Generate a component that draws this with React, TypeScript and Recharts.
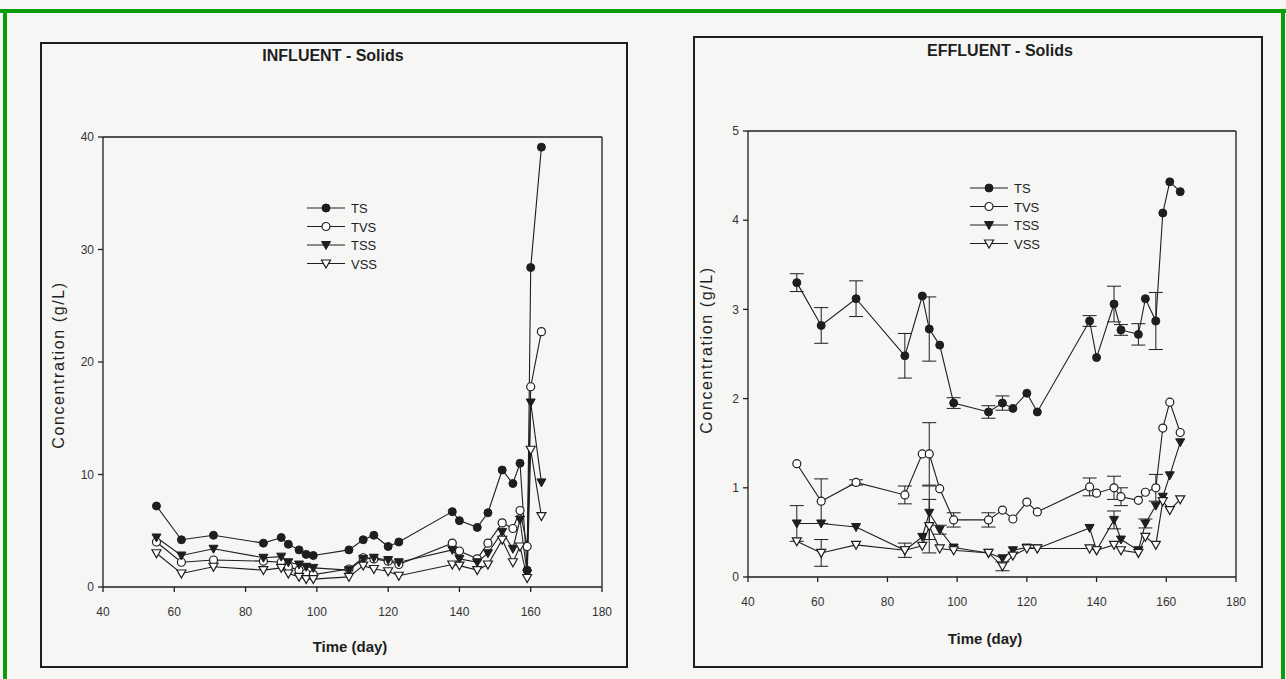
import React from 'react';
import { LineChart, Line, XAxis, YAxis, ErrorBar, ReferenceLine } from 'recharts';

// ---------- data ----------
const seriesNames = ['TS', 'TVS', 'TSS', 'VSS'];
const xTicks = [40, 60, 80, 100, 120, 140, 160, 180];
const infYTicks = [0, 10, 20, 30, 40];
const effYTicks = [0, 1, 2, 3, 4, 5];

const infDays = [55, 62, 71, 85, 90, 92, 95, 97, 99, 109, 113, 116, 120, 123, 138, 140, 145, 148, 152, 155, 157, 159, 160, 163];
const infTS = [7.2, 4.2, 4.6, 3.9, 4.4, 3.8, 3.3, 2.9, 2.8, 3.3, 4.2, 4.6, 3.6, 4.0, 6.7, 5.9, 5.3, 6.6, 10.4, 9.2, 11.0, 1.5, 28.4, 39.1];
const infTVS = [4.0, 2.2, 2.4, 2.3, 2.2, 1.8, 1.5, 1.2, 1.1, 1.6, 2.6, 2.5, 2.3, 2.0, 3.9, 3.2, 2.5, 3.9, 5.7, 5.2, 6.8, 3.6, 17.8, 22.7];
const infTSS = [4.4, 2.8, 3.4, 2.6, 2.7, 2.2, 2.0, 1.8, 1.7, 1.5, 2.5, 2.6, 2.4, 2.2, 3.3, 2.5, 2.2, 3.0, 4.9, 3.4, 6.0, 1.2, 16.4, 9.3];
const infVSS = [3.0, 1.2, 1.8, 1.5, 1.7, 1.2, 0.9, 0.7, 0.7, 0.9, 1.9, 1.6, 1.4, 1.0, 2.0, 1.9, 1.5, 2.0, 4.2, 2.2, 3.6, 0.8, 12.2, 6.3];

const effDays = [54, 61, 71, 85, 90, 92, 95, 99, 109, 113, 116, 120, 123, 138, 140, 145, 147, 152, 154, 157, 159, 161, 164];
const effTS = [3.30, 2.82, 3.12, 2.48, 3.15, 2.78, 2.60, 1.95, 1.85, 1.95, 1.89, 2.06, 1.85, 2.87, 2.46, 3.06, 2.77, 2.72, 3.12, 2.87, 4.08, 4.43, 4.32];
const effTVS = [1.27, 0.85, 1.06, 0.92, 1.38, 1.38, 0.99, 0.64, 0.64, 0.75, 0.65, 0.84, 0.73, 1.01, 0.94, 1.00, 0.90, 0.86, 0.95, 1.00, 1.67, 1.96, 1.62];
const effTSS = [0.60, 0.60, 0.56, 0.30, 0.45, 0.72, 0.53, 0.33, 0.27, 0.21, 0.30, 0.33, 0.32, 0.55, 0.30, 0.64, 0.42, 0.30, 0.60, 0.80, 0.90, 1.14, 1.51];
const effVSS = [0.40, 0.27, 0.36, 0.30, 0.35, 0.57, 0.32, 0.30, 0.27, 0.12, 0.24, 0.32, 0.32, 0.32, 0.30, 0.36, 0.30, 0.27, 0.45, 0.36, 0.85, 0.75, 0.87];
const effTSErr = [0.10, 0.20, 0.20, 0.25, null, 0.36, null, 0.06, 0.07, 0.08, null, null, null, 0.06, null, 0.20, 0.06, 0.12, null, 0.32, null, null, null];
const effTVSErr = [null, 0.25, 0.03, 0.10, null, 0.35, null, 0.08, 0.08, null, null, null, null, 0.10, null, 0.13, 0.10, null, null, 0.15, null, null, null];
const effTSSErr = [0.20, null, null, null, null, 0.30, 0.05, null, null, null, null, null, null, null, null, 0.10, null, null, 0.05, null, null, null, null];
const effVSSErr = [null, 0.15, null, 0.08, null, 0.30, null, null, null, 0.05, null, null, null, null, null, null, null, null, null, null, null, null, null];

const infData = infDays.map((d, i) => ({ day: d, TS: infTS[i], TVS: infTVS[i], TSS: infTSS[i], VSS: infVSS[i] }));
const effData = effDays.map((d, i) => ({
  day: d, TS: effTS[i], TVS: effTVS[i], TSS: effTSS[i], VSS: effVSS[i],
  TSe: effTSErr[i], TVSe: effTVSErr[i], TSSe: effTSSErr[i], VSSe: effVSSErr[i],
}));

// ---------- styles ----------
const INK = '#1e1e1e';
const FONT = "'Liberation Sans Narrow', 'Liberation Sans', Arial, sans-serif";
const BG = '#f6f6f4';

const Marker = ({ kind, cx, cy }: { kind: string; cx: number; cy: number }) => {
  if (kind === 'TS') return <circle cx={cx} cy={cy} r={4} fill={INK} stroke={INK} strokeWidth={1} />;
  if (kind === 'TVS') return <circle cx={cx} cy={cy} r={4} fill="#fff" stroke={INK} strokeWidth={1.2} />;
  const d = `M${cx - 4.5},${cy - 3.5} L${cx + 4.5},${cy - 3.5} L${cx},${cy + 4.5} Z`;
  if (kind === 'TSS') return <path d={d} fill={INK} stroke={INK} strokeWidth={1} />;
  return <path d={d} fill="#fff" stroke={INK} strokeWidth={1.2} />;
};

const makeDot = (kind: string) => (p: any) => {
  const { cx, cy, index, value } = p;
  if (cx == null || cy == null || value == null) return <g key={`e${index}`} />;
  return <Marker key={`${kind}${index}`} kind={kind} cx={cx} cy={cy} />;
};

const LegendBox = ({ x, y }: { x: number; y: number }) => (
  <svg width={90} height={80} style={{ position: 'absolute', left: x, top: y, overflow: 'visible' }}>
    {seriesNames.map((s, i) => (
      <g key={s} transform={`translate(0, ${8 + i * 18.5})`}>
        <line x1={0} x2={38} y1={0} y2={0} stroke={INK} strokeWidth={1.2} />
        <Marker kind={s} cx={19} cy={0} />
        <text x={44} y={5} fontSize={13} fontFamily={FONT} fill={INK}>{s}</text>
      </g>
    ))}
  </svg>
);

const tickStyle = { fontSize: 12, fill: '#333', fontFamily: FONT };

function Panel(props: {
  data: any[]; yTicks: number[]; yMax: number; errors: boolean;
  left: number; width: number; height: number;
  plotL: number; plotR: number; plotT: number; plotB: number;
}) {
  const { data, yTicks, yMax, errors, left, width, height, plotL, plotR, plotT, plotB } = props;
  const yAxisW = 40;
  const xAxisH = 30;
  return (
    <div style={{ position: 'absolute', left, top: 0, width, height }}>
      <LineChart
        width={width}
        height={height}
        data={data}
        margin={{ top: plotT, right: width - plotR, bottom: height - plotB - xAxisH, left: plotL - yAxisW }}
      >
        <XAxis
          dataKey="day" type="number" domain={[40, 180]} ticks={xTicks} interval={0}
          height={xAxisH} tick={tickStyle} tickSize={5} tickMargin={15}
          stroke={INK} strokeWidth={1.3} allowDataOverflow
        />
        <YAxis
          type="number" domain={[0, yMax]} ticks={yTicks} interval={0} width={yAxisW}
          tick={tickStyle} tickSize={5} tickMargin={4} stroke={INK} strokeWidth={1.3} allowDataOverflow
        />
        <ReferenceLine y={yMax} stroke={INK} strokeWidth={1.3} />
        <ReferenceLine x={180} stroke={INK} strokeWidth={1.3} />
        {seriesNames.map((s) => (
          <Line
            key={s} dataKey={s} type="linear" stroke={INK} strokeWidth={1.1}
            dot={makeDot(s)} activeDot={false} isAnimationActive={false} connectNulls
          >
            {errors ? <ErrorBar dataKey={`${s}e`} width={7} stroke={INK} strokeWidth={1} direction="y" /> : null}
          </Line>
        ))}
      </LineChart>
    </div>
  );
}

const txt = (s: any) => ({ position: 'absolute' as const, fontFamily: FONT, color: INK, whiteSpace: 'nowrap' as const, ...s });

export default function App() {
  return (
    <div style={{ position: 'fixed', left: 0, top: 0, width: 1286, height: 679, background: BG, overflow: 'hidden' }}>
      {/* green border */}
      <div style={{ position: 'absolute', left: 0, top: 9, width: 1286, height: 4, background: '#0a9e0a' }} />
      <div style={{ position: 'absolute', left: 3, top: 9, width: 4, height: 670, background: '#0a9e0a' }} />
      <div style={{ position: 'absolute', left: 1281, top: 9, width: 4, height: 670, background: '#0a9e0a' }} />

      {/* panel frames */}
      <div style={{ position: 'absolute', left: 40, top: 42, width: 588, height: 626, border: `2px solid ${INK}`, boxSizing: 'border-box' }} />
      <div style={{ position: 'absolute', left: 693, top: 36, width: 570, height: 632, border: `2px solid ${INK}`, boxSizing: 'border-box' }} />

      {/* titles */}
      <div style={txt({ left: 233, top: 47, width: 200, textAlign: 'center', fontSize: 16, fontWeight: 'bold' })}>INFLUENT - Solids</div>
      <div style={txt({ left: 900, top: 42, width: 200, textAlign: 'center', fontSize: 16, fontWeight: 'bold' })}>EFFLUENT - Solids</div>

      <Panel
        data={infData} yTicks={infYTicks} yMax={40} errors={false}
        left={0} width={640} height={679}
        plotL={103} plotR={602} plotT={137} plotB={587}
      />
      <Panel
        data={effData} yTicks={effYTicks} yMax={5} errors={true}
        left={645} width={640} height={679}
        plotL={748 - 645} plotR={1236 - 645} plotT={131} plotB={577}
      />
      <LegendBox x={307} y={200} />
      <LegendBox x={970} y={180} />

      {/* axis titles */}
      <div style={txt({ left: 60 - 110, top: 365 - 10, width: 220, textAlign: 'center', fontSize: 16, letterSpacing: 1.6, transform: 'rotate(-90deg)', transformOrigin: '110px 10px' })}>Concentration (g/L)</div>
      <div style={txt({ left: 708 - 110, top: 350 - 10, width: 220, textAlign: 'center', fontSize: 16, letterSpacing: 1.6, transform: 'rotate(-90deg)', transformOrigin: '110px 10px' })}>Concentration (g/L)</div>
      <div style={txt({ left: 250, top: 638, width: 200, textAlign: 'center', fontSize: 15, fontWeight: 'bold' })}>Time (day)</div>
      <div style={txt({ left: 885, top: 630, width: 200, textAlign: 'center', fontSize: 15, fontWeight: 'bold' })}>Time (day)</div>
    </div>
  );
}
